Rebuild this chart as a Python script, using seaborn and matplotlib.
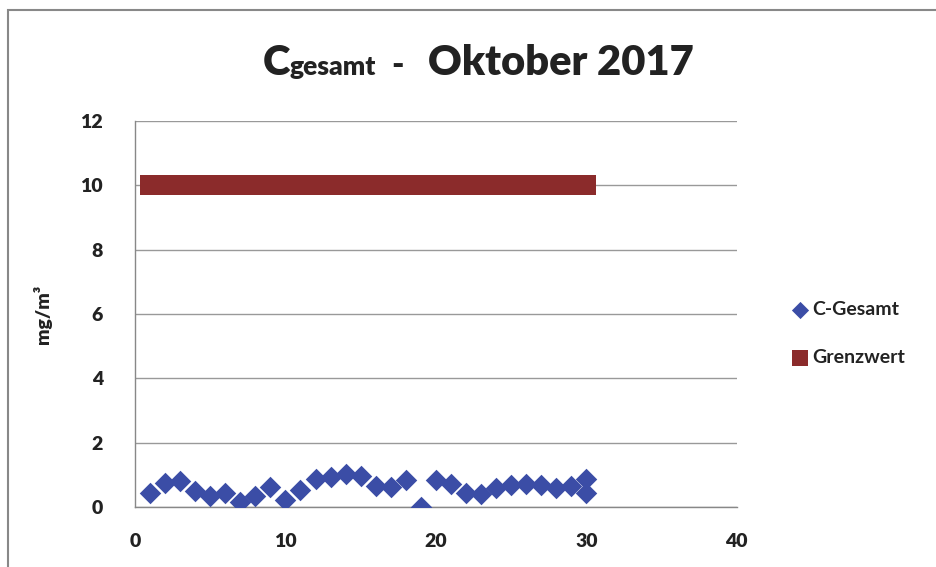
import matplotlib
matplotlib.use("Agg")
import matplotlib.pyplot as plt
import seaborn as sns
import pandas as pd
from matplotlib.patches import Rectangle

# Tage und Messwerte (mg/m³)
tage = [1, 2, 3, 4, 5, 6, 7, 8, 9, 10, 11, 12, 13, 14, 15, 16, 17, 18, 19, 20,
        21, 22, 23, 24, 25, 26, 27, 28, 29, 30, 30]
c_gesamt = [0.45, 0.75, 0.8, 0.5, 0.33, 0.45, 0.17, 0.33, 0.62, 0.23, 0.52, 0.88,
            0.92, 1.03, 0.95, 0.66, 0.63, 0.85, 0.0, 0.85, 0.72, 0.45, 0.42, 0.58,
            0.68, 0.72, 0.68, 0.6, 0.65, 0.88, 0.45]
grenz_tage = list(range(1, 31))
grenzwert = [10] * 30

y_ticks = [0, 2, 4, 6, 8, 10, 12]
x_ticks = [0, 10, 20, 30, 40]

blau = "#3B4DA6"
rot = "#8B2B2B"

sns.set_style("white")
plt.rcParams['font.family'] = ['Lato', 'DejaVu Sans']

fig = plt.figure(figsize=(9.36, 5.67), dpi=100)
ax = fig.add_axes([0.1442, 0.1058, 0.643, 0.6808])

df_c = pd.DataFrame({"Tag": tage, "Wert": c_gesamt})
df_g = pd.DataFrame({"Tag": grenz_tage, "Wert": grenzwert})

sns.scatterplot(data=df_g, x="Tag", y="Wert", marker="s", s=215, color=rot,
                linewidth=0, ax=ax, label="Grenzwert", zorder=3)
sns.scatterplot(data=df_c, x="Tag", y="Wert", marker="D", s=120, color=blau,
                linewidth=0, ax=ax, label="C-Gesamt", zorder=4)

ax.set_xlim(0, 40)
ax.set_ylim(0, 12)
ax.set_xticks(x_ticks)
ax.set_yticks(y_ticks)
ax.yaxis.grid(True, color="#999999", linewidth=1)
ax.set_axisbelow(True)
for s in ["top", "right"]:
    ax.spines[s].set_visible(False)
for s in ["left", "bottom"]:
    ax.spines[s].set_color("#888888")
    ax.spines[s].set_linewidth(1)
ax.tick_params(axis="both", which="both", length=5, color="#888888",
               labelsize=14, direction="out", labelcolor="#222222")
ax.tick_params(axis="y", pad=18)
ax.tick_params(axis="x", pad=14)
for lab in ax.get_xticklabels() + ax.get_yticklabels():
    lab.set_fontweight("heavy")
ax.set_xlabel("")
ax.set_ylabel("mg/m³", fontsize=14, fontweight="heavy", labelpad=20, color="#222222")

# Legende rechts
h, l = ax.get_legend_handles_labels()
order = [l.index("C-Gesamt"), l.index("Grenzwert")]
leg = ax.legend([h[i] for i in order], [l[i] for i in order],
                loc="center left", bbox_to_anchor=(0.826, 0.412),
                bbox_transform=fig.transFigure, frameon=False,
                prop={"size": 14, "weight": "bold"}, handletextpad=0.1,
                labelspacing=1.6, handlelength=1.0, markerscale=0.8)
for t in leg.get_texts():
    t.set_color("#222222")

# Titel
fig.text(0.281, 0.868, "C", fontsize=30, fontweight="heavy", color="#222222")
fig.text(0.309, 0.868, "gesamt", fontsize=19, fontweight="heavy", color="#222222")
fig.text(0.418, 0.868, "-", fontsize=24, fontweight="heavy", color="#222222")
fig.text(0.457, 0.868, "Oktober 2017", fontsize=30, fontweight="heavy", color="#222222")

# Rahmen
fig.patches.append(Rectangle((0.009, -0.01), 1.0, 0.992, transform=fig.transFigure,
                             fill=False, edgecolor="#888888", linewidth=1.5))

fig.savefig("out.png", dpi=100)
